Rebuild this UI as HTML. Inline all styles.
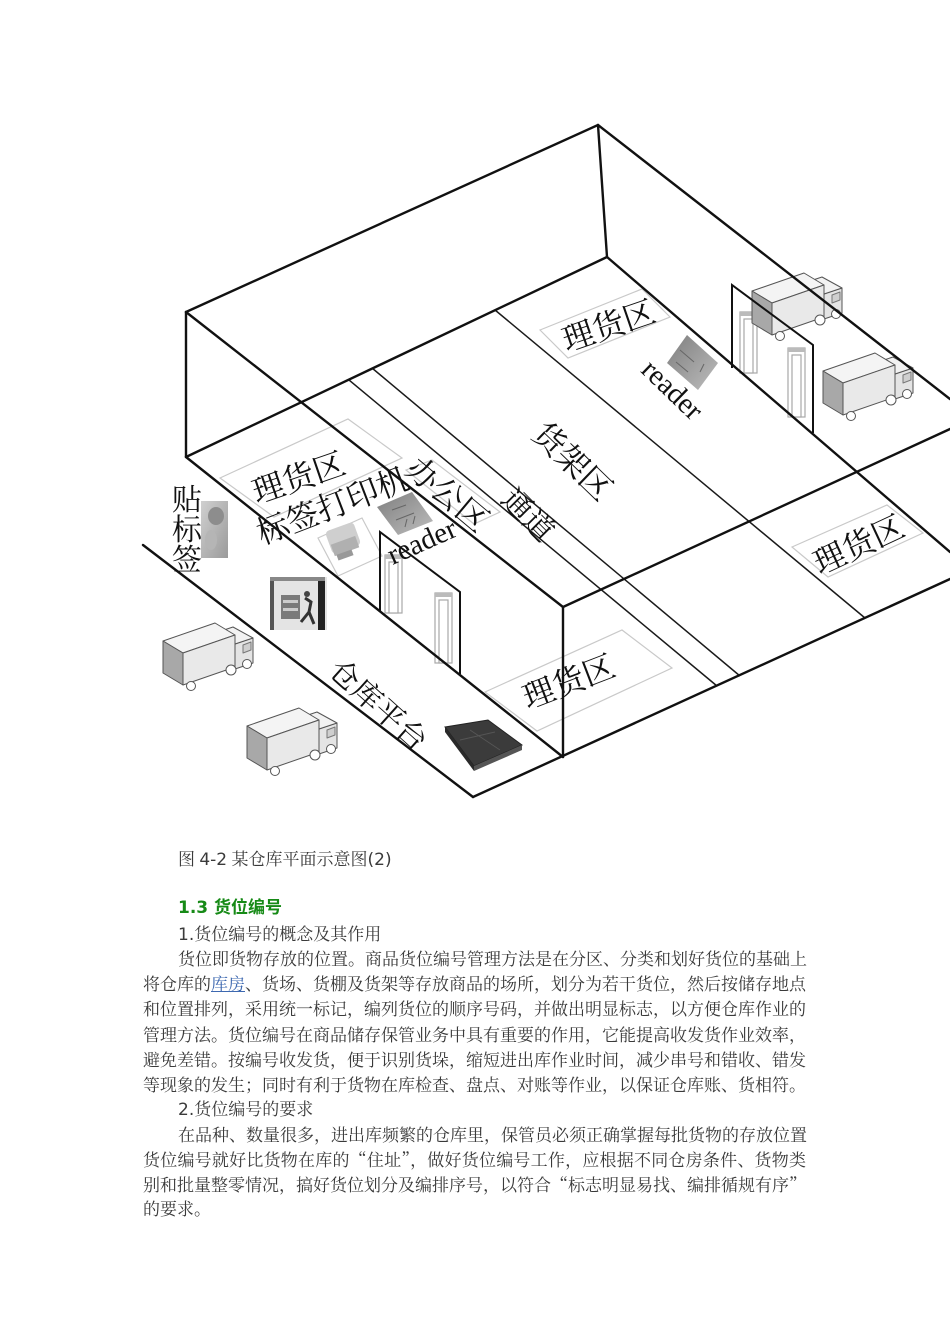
<!DOCTYPE html>
<html><head><meta charset="utf-8">
<style>
html,body{margin:0;padding:0;background:#fff;}
#pg{position:relative;width:950px;height:1344px;overflow:hidden;background:#fff;}
svg{position:absolute;left:0;top:0;}
.t{position:absolute;left:143px;font-family:"Noto Serif CJK SC","Noto Sans CJK SC",serif;font-size:17px;line-height:25px;color:#3a3a3a;white-space:nowrap;}
.i{left:178px;}
.j{width:663px;text-align:justify;text-align-last:justify;}
.j2{width:628px;text-align:justify;text-align-last:justify;}
.l{font-family:"DejaVu Sans","Liberation Sans",sans-serif;}
.h{font-family:"DejaVu Sans","Noto Sans CJK SC",sans-serif;font-weight:bold;color:#168a16;}
a{color:#3d68b0;text-decoration:underline;}
</style></head><body><div id="pg">
<svg width="950" height="820" viewBox="0 0 950 820" xmlns="http://www.w3.org/2000/svg">
<defs>
<linearGradient id="gr1" x1="0" y1="0" x2="1" y2="1"><stop offset="0" stop-color="#7e7e7e"/><stop offset="1" stop-color="#bdbdbd"/></linearGradient>
<linearGradient id="gr2" x1="0" y1="0" x2="1" y2="1"><stop offset="0" stop-color="#d0d0d0"/><stop offset="1" stop-color="#9a9a9a"/></linearGradient>
<g id="truck" stroke="#555" stroke-width="1" stroke-linejoin="round">
 <polygon points="74,25 92,19 92,44 74,50" fill="#e4e4e4"/>
 <polygon points="74,25 92,19 72,8 54,14" fill="#f2f2f2"/>
 <polygon points="82,26 90,23 90,31 82,34" fill="#cfcfcf" stroke="#777"/>
 <polygon points="2,22 54,4 74,16 22,34" fill="#f4f4f4"/>
 <polygon points="2,22 22,34 22,66 2,54" fill="#a8a8a8"/>
 <polygon points="22,34 74,16 74,48 22,66" fill="#e9e9e9"/>
 <circle cx="30" cy="67" r="4.5" fill="#fff"/>
 <circle cx="70" cy="51" r="5" fill="#fff"/>
 <circle cx="86" cy="45" r="4.5" fill="#fff"/>
</g>
</defs>

<!-- light zone boxes -->
<g fill="none" stroke="#c9c9c9" stroke-width="1.2">
 <polygon points="540,330 642,289 670,317 568,358"/>
 <polygon points="792,547 887,505 923,533 828,577"/>
 <polygon points="485,692 622,630 672,668 537,731"/>
 <polygon points="220,478 348,419 402,458 274,517"/>
 <polygon points="318,538 362,518 382,556 338,576"/>
 <polygon points="406,470 432,460 500,512 474,524"/>
</g>

<!-- floor zone lines -->
<g stroke="#1a1a1a" stroke-width="1.5" fill="none">
 <line x1="349" y1="380" x2="717" y2="686"/>
 <line x1="372" y1="368" x2="740" y2="676"/>
 <line x1="495" y1="310" x2="865" y2="618"/>
</g>

<!-- images -->
<rect x="201" y="501" width="27" height="57" fill="url(#gr2)"/>
<ellipse cx="216" cy="516" rx="8" ry="9" fill="#8d8d8d"/>
<ellipse cx="211" cy="540" rx="6" ry="10" fill="#b5b5b5"/>
<rect x="270" y="577" width="57" height="53" fill="#e4e4e4"/>
<rect x="270" y="577" width="4" height="53" fill="#555"/>
<rect x="318" y="577" width="7" height="53" fill="#222"/>
<rect x="270" y="577" width="55" height="4" fill="#888"/>
<rect x="281" y="595" width="19" height="24" fill="#7a7a7a"/>
<rect x="283" y="600" width="15" height="3" fill="#ccc"/>
<rect x="283" y="608" width="15" height="3" fill="#ccc"/>
<path d="M305 598 l6 4 l-2 10 l5 12 M309 612 l-8 10" stroke="#333" stroke-width="3" fill="none"/>
<circle cx="307" cy="594" r="3" fill="#444"/>
<rect x="328" y="526" width="30" height="24" rx="4" fill="#cfcfcf" transform="rotate(-20 343 538)"/>
<rect x="332" y="540" width="26" height="12" fill="#b0b0b0" transform="rotate(-20 345 546)"/>
<rect x="337" y="552" width="16" height="6" fill="#999" transform="rotate(-20 345 555)"/>
<polygon points="377,507 412,492 433,521 398,535" fill="url(#gr1)"/>
<path d="M392 510 l14 -5 M396 520 l18 -7 M405 527 l2 -8 M413 524 l2 -8" stroke="#666" stroke-width="1"/>
<polygon points="687,335 718,363 698,390 667,363" fill="url(#gr1)"/>
<path d="M680 350 l14 12 M676 362 l12 10 M700 372 l4 -8" stroke="#666" stroke-width="1"/>
<polygon points="445,727 488,720 522,745 474,766" fill="#3b3b3b" stroke="#222" stroke-width="1"/>
<polygon points="445,727 474,766 474,771 445,732" fill="#2a2a2a"/>
<polygon points="474,766 522,745 522,750 474,771" fill="#555"/>
<path d="M470 730 l30 20 M460 740 l35 -8" stroke="#555" stroke-width="1"/>

<!-- gates -->
<g fill="#fff" stroke="#a8a8a8" stroke-width="1.2">
 <rect x="385" y="555" width="17" height="58"/><rect x="389" y="562" width="9" height="51"/>
 <rect x="435" y="593" width="17" height="70"/><rect x="439" y="600" width="9" height="63"/>
 <rect x="740" y="312" width="17" height="61"/><rect x="744" y="319" width="9" height="54"/>
 <rect x="788" y="348" width="17" height="69"/><rect x="792" y="355" width="9" height="62"/>
</g>
<g fill="#bbb"><rect x="385" y="555" width="17" height="4"/><rect x="435" y="593" width="17" height="4"/><rect x="740" y="312" width="17" height="4"/><rect x="788" y="348" width="17" height="4"/></g>

<!-- trucks -->
<use href="#truck" x="161" y="619"/>
<use href="#truck" x="245" y="704"/>
<use href="#truck" x="750" y="269"/>
<use href="#truck" x="821" y="349"/>

<!-- main structure -->
<g stroke="#111" stroke-width="2.4" fill="none" stroke-linecap="round">
 <line x1="186" y1="312" x2="598" y2="125"/>
 <line x1="598" y1="125" x2="950" y2="399"/>
 <line x1="186" y1="312" x2="563" y2="607"/>
 <line x1="563" y1="607" x2="950" y2="429"/>
 <line x1="186" y1="312" x2="186" y2="457"/>
 <line x1="598" y1="125" x2="607" y2="257"/>
 <line x1="563" y1="607" x2="563" y2="757"/>
 <line x1="186" y1="457" x2="607" y2="257"/>
 <line x1="607" y1="257" x2="950" y2="552"/>
 <line x1="186" y1="457" x2="563" y2="757"/>
 <line x1="473" y1="797" x2="950" y2="579"/>
 <line x1="143" y1="545" x2="473" y2="797"/>
</g>
<g stroke="#111" stroke-width="2" fill="none">
 <polyline points="380,612 380,532 460,592 460,674"/>
 <polyline points="732,368 732,285 813,345 813,433"/>
</g>

<!-- labels -->
<g font-family="'Noto Serif CJK SC','Noto Serif CJK JP',serif" font-size="32" fill="#111" text-anchor="middle" dominant-baseline="central">
 <text x="608" y="324" transform="rotate(-19 608 324)">理货区</text>
 <text x="574" y="460" transform="rotate(44 574 460)">货架区</text>
 <text x="298" y="476" transform="rotate(-19 298 476)">理货区</text>
 <text x="332" y="504" transform="rotate(-21 332 504)">标签打印机</text>
 <text x="449" y="493" transform="rotate(40 449 493)">办公区</text>
 <text x="530" y="513" transform="rotate(45 530 513)" font-size="30">通道</text>
 <text x="380" y="703" transform="rotate(42 380 703)" font-size="30">仓库平台</text>
 <text x="568" y="680" transform="rotate(-21 568 680)">理货区</text>
 <text x="858" y="543" transform="rotate(-25 858 543)">理货区</text>
 <text x="187" y="497" font-size="30">贴</text>
 <text x="187" y="527" font-size="30">标</text>
 <text x="187" y="557" font-size="30">签</text>
</g>
<g font-family="'Liberation Serif',serif" font-size="29" fill="#111" text-anchor="middle" dominant-baseline="central">
 <text x="672" y="390" transform="rotate(44 672 390)">reader</text>
 <text x="422" y="542" transform="rotate(-24 422 542)">reader</text>
</g>
</svg>

<div class="t i" style="top:845px;">图 <span class="l">4-2</span> 某仓库平面示意图<span class="l">(2)</span></div>
<div class="t i h" style="top:896px;">1.3 货位编号</div>
<div class="t i" style="top:920px;"><span class="l">1.</span>货位编号的概念及其作用</div>
<div class="t i j2" style="top:945px;">货位即货物存放的位置。商品货位编号管理方法是在分区、分类和划好货位的基础上</div>
<div class="t j" style="top:970px;">将仓库的<a>库房</a>、货场、货棚及货架等存放商品的场所，划分为若干货位，然后按储存地点</div>
<div class="t j" style="top:995px;">和位置排列，采用统一标记，编列货位的顺序号码，并做出明显标志，以方便仓库作业的</div>
<div class="t j" style="top:1021px;">管理方法。货位编号在商品储存保管业务中具有重要的作用，它能提高收发货作业效率，</div>
<div class="t j" style="top:1046px;">避免差错。按编号收发货，便于识别货垛，缩短进出库作业时间，减少串号和错收、错发</div>
<div class="t j" style="top:1071px;">等现象的发生；同时有利于货物在库检查、盘点、对账等作业，以保证仓库账、货相符。</div>
<div class="t i" style="top:1095px;"><span class="l">2.</span>货位编号的要求</div>
<div class="t i j2" style="top:1121px;">在品种、数量很多，进出库频繁的仓库里，保管员必须正确掌握每批货物的存放位置</div>
<div class="t j" style="top:1146px;">货位编号就好比货物在库的“住址”，做好货位编号工作，应根据不同仓房条件、货物类</div>
<div class="t j" style="top:1171px;">别和批量整零情况，搞好货位划分及编排序号，以符合“标志明显易找、编排循规有序”</div>
<div class="t" style="top:1195px;">的要求。</div>
</div></body></html>
